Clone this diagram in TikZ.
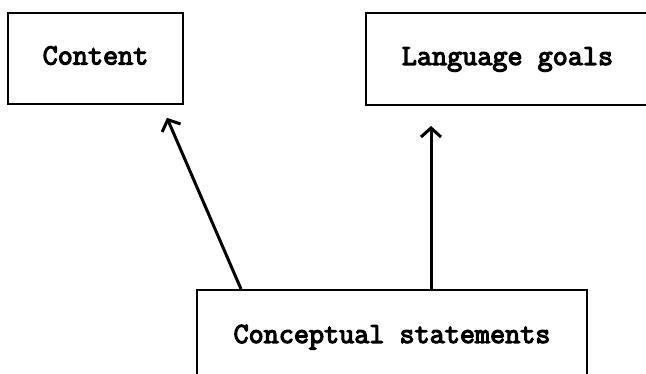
\documentclass[tikz,border=0pt]{standalone}
\usepackage{fontspec}
\newfontfamily\boxfont[FakeBold=4]{Latin Modern Mono}
\usetikzlibrary{arrows.meta,calc}
\tikzset{
  box/.style={draw, line width=2pt, inner sep=0pt, text height=17pt, text depth=5pt,
    font=\boxfont\fontsize{29.3}{34}\selectfont},
  arr/.style={line width=3pt, -{Straight Barb[length=9pt,width=20pt,line width=3pt]}}
}
\begin{document}
\begin{tikzpicture}[x=1pt,y=1pt]
\useasboundingbox (0,0) rectangle (646,374);
\clip (0,0) rectangle (646,374);
\node[box, minimum width=175pt, minimum height=91pt] (ct) at (95.5,315.5) {Content};
\node[box, minimum width=283pt, minimum height=92pt] (lg) at (507.5,315) {Language goals};
\node[box, minimum width=390pt, minimum height=94pt] (cs) at (392,37) {Conceptual statements};
\draw[arr, shorten >=14pt] ($(cs.north west)+(45,0)$) -- ($(ct.south west)+(154.4,0)$);
\draw[arr, shorten >=20pt] ($(cs.north west)+(235,0)$) -- ($(lg.south west)+(66,0)$);
\end{tikzpicture}
\end{document}
